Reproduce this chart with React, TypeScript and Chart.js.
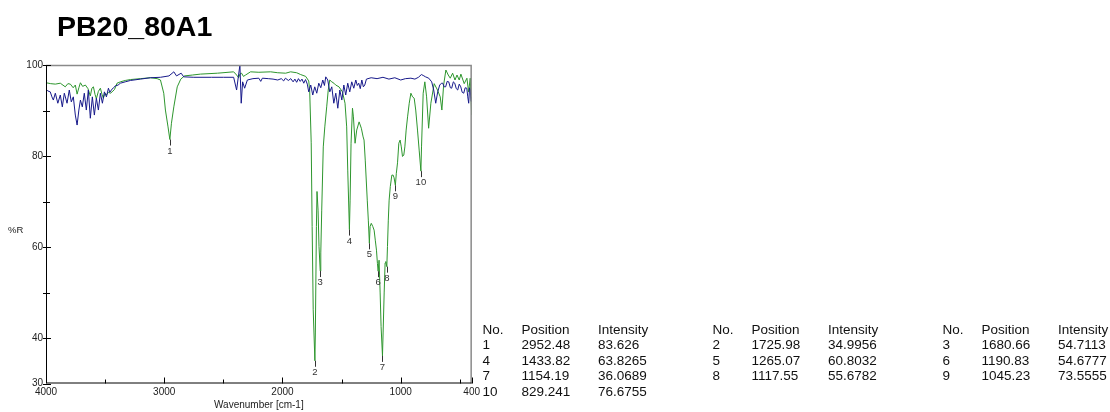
import React, { useEffect, useRef } from 'react';
import { Chart, registerables } from 'chart.js';

Chart.register(...registerables);

const chartTitle = 'PB20_80A1';
const xAxisTitle = 'Wavenumber [cm-1]';
const yAxisTitle = '%R';

const xTickValues = [4000, 3500, 3000, 2500, 2000, 1500, 1000, 500, 400];
const xTickLabels = ['4000', '', '3000', '', '2000', '', '1000', '', '400'];
const yTickValues = [30, 40, 50, 60, 70, 80, 90, 100];
const yTickLabels = ['30', '40', '', '60', '', '80', '', '100'];

// Sample spectrum (green)
const sampleWavenumber = [
  4000, 3960, 3921, 3879, 3837, 3815, 3794, 3770, 3752, 3737, 3722, 3709, 3690, 3667, 3645, 3625, 3612, 3599,
  3585, 3574, 3557, 3540, 3527, 3515, 3500, 3489, 3472, 3455, 3441, 3421, 3399, 3371, 3330, 3286, 3201, 3117,
  3060, 3032, 3004, 2990, 2968, 2952.48, 2939, 2919, 2890, 2860, 2829, 2760, 2693, 2550, 2413, 2388, 2371, 2360,
  2346, 2330, 2312, 2270, 2200, 2100, 2040, 1973, 1931, 1880, 1846, 1804, 1778, 1770, 1757, 1749, 1740, 1725.98,
  1722, 1713, 1708, 1699, 1691, 1680.66, 1676, 1668, 1655, 1642, 1626, 1613, 1600, 1583, 1565, 1550, 1522, 1493,
  1471, 1457, 1448, 1433.82, 1428, 1420, 1408, 1400, 1386, 1372, 1352, 1333, 1318, 1310, 1300, 1283, 1274,
  1265.07, 1259, 1249, 1236, 1225, 1215, 1205, 1197, 1190.83, 1183, 1174, 1166, 1154.19, 1149, 1140, 1132, 1126,
  1117.55, 1112, 1105, 1098, 1088, 1075, 1064, 1056, 1045.23, 1037, 1027, 1016, 1005, 995, 985, 974, 965, 954,
  942, 928, 914, 900, 886, 873, 858, 844, 829.241, 824, 810, 796, 781, 764, 745, 717, 689, 666, 652, 637, 618,
  598, 581, 561, 541, 524, 505, 491, 463, 440, 426, 412, 400,
];
const sampleValue = [
  96.1, 95.9, 95.8, 96.0, 95.2, 95.9, 95.8, 95.0, 95.6, 93.6, 95.0, 96.1, 95.3, 95.6, 94.8, 93.2, 94.9, 95.2,
  93.5, 92.6, 94.2, 94.9, 93.6, 92.7, 93.8, 93.4, 94.0, 93.8, 94.1, 94.6, 96.0, 96.3, 96.6, 96.8, 97.0, 97.2,
  97.0, 96.7, 93.8, 90.1, 86.4, 83.626, 87.2, 90.8, 95.2, 96.9, 97.6, 97.8, 98.0, 98.2, 98.5, 97.8, 97.2, 98.0,
  98.2, 97.5, 97.8, 98.5, 98.4, 98.5, 98.3, 98.2, 98.5, 98.3, 97.9, 97.5, 96.5, 94.5, 82.9, 64.5, 46.2, 34.9956,
  41.1, 64.5, 72.2, 68.1, 60.1, 54.7113, 58.7, 68.1, 82.0, 86.4, 90.8, 94.5, 96.7, 96.3, 96.0, 95.6, 95.2, 94.1,
  91.6, 86.4, 76.9, 63.8265, 70.3, 82.8, 90.5, 88.6, 82.8, 85.7, 87.5, 86.1, 84.2, 83.5, 79.1, 70.3, 65.9,
  60.8032, 64.5, 65.2, 64.5, 63.7, 61.5, 59.3, 56.4, 54.6777, 57.1, 49.9, 42.5, 36.0689, 41.1, 49.9, 56.5, 56.8,
  55.6782, 60.1, 65.9, 70.3, 73.3, 75.8, 75.8, 75.2, 73.5555, 76.2, 78.5, 82.8, 83.5, 82.0, 79.9, 80.2, 82.0, 85.7,
  88.6, 91.6, 93.8, 93.0, 92.7, 90.1, 85.7, 81.3, 76.6755, 82.0, 93.8, 96.3, 93.0, 86.1, 91.6, 95.9, 94.5, 93.0,
  90.1, 95.6, 98.9, 97.8, 97.1, 98.2, 96.7, 97.8, 96.7, 98.0, 95.9, 97.1, 94.1, 97.1, 89.0,
];

// Background spectrum (dark blue)
const backgroundWavenumber = [
  4000, 3985, 3964, 3950, 3938, 3921, 3900, 3879, 3862, 3845, 3822, 3803, 3786, 3769, 3752, 3737, 3722, 3709,
  3693, 3676, 3659, 3642, 3625, 3608, 3591, 3574, 3557, 3540, 3523, 3506, 3489, 3472, 3460, 3447, 3430, 3413,
  3390, 3371, 3330, 3286, 3201, 3117, 3032, 2960, 2919, 2896, 2857, 2835, 2750, 2600, 2500, 2413, 2388, 2377,
  2360, 2349, 2337, 2320, 2297, 2250, 2200, 2184, 2170, 2120, 2080, 2040, 2010, 1990, 1975, 1950, 1930, 1910,
  1895, 1880, 1865, 1850, 1835, 1820, 1805, 1790, 1778, 1761, 1744, 1727, 1710, 1693, 1676, 1659, 1645, 1634,
  1617, 1600, 1583, 1566, 1549, 1532, 1515, 1498, 1481, 1465, 1448, 1431, 1414, 1397, 1380, 1367, 1355, 1342,
  1329, 1316, 1304, 1290, 1250, 1200, 1150, 1100, 1050, 1000, 960, 914, 880, 850, 825, 810, 790, 763, 738, 721,
  704, 687, 670, 655, 645, 632, 620, 607, 594, 580, 569, 555, 543, 530, 518, 505, 492, 480, 467, 455, 441, 433,
  425, 418, 412, 405, 400,
];
const backgroundValue = [
  94.7, 94.3, 94.1, 93.0, 92.3, 93.8, 91.6, 93.4, 90.8, 93.8, 91.6, 94.5, 91.9, 93.0, 89.0, 86.8, 90.1, 92.3,
  90.8, 93.8, 90.1, 94.5, 88.3, 93.0, 89.0, 92.7, 90.1, 93.8, 91.6, 94.1, 93.0, 94.9, 94.0, 94.5, 95.0, 95.4,
  95.6, 96.0, 96.3, 96.6, 96.9, 97.2, 97.3, 97.6, 98.5, 97.6, 98.2, 97.4, 97.3, 97.3, 97.3, 97.3, 94.5, 96.7,
  100.0, 91.6, 96.3, 94.9, 96.7, 97.0, 97.1, 96.4, 97.1, 97.0, 96.9, 96.7, 97.0, 96.5, 97.1, 96.6, 97.0, 96.3,
  96.9, 96.2, 97.0, 96.4, 96.9, 96.0, 96.8, 95.8, 94.1, 95.6, 93.4, 95.2, 93.8, 96.0, 95.0, 96.7, 95.5, 97.4,
  96.7, 94.1, 95.2, 91.6, 93.8, 90.5, 94.5, 92.3, 95.6, 93.4, 96.0, 94.1, 96.3, 94.9, 96.7, 95.5, 96.0, 94.8,
  96.7, 95.2, 95.6, 96.9, 97.2, 97.0, 97.3, 96.9, 97.2, 96.7, 97.0, 97.1, 96.9, 97.3, 97.9, 97.7, 97.4, 97.1, 96.3, 94.5,
  91.6, 94.1, 95.6, 96.0, 96.0, 95.2, 95.2, 96.4, 96.3, 95.0, 94.9, 96.3, 96.0, 94.8, 94.5, 95.8, 95.2, 94.0, 93.8, 95.0, 94.9, 93.0,
  91.6, 95.0, 94.5, 92.0, 93.0,
];

// Peak table
const peakNo = [1, 2, 3, 4, 5, 6, 7, 8, 9, 10];
const peakPosition = [2952.48, 1725.98, 1680.66, 1433.82, 1265.07, 1190.83, 1154.19, 1117.55, 1045.23, 829.241];
const peakIntensity = [83.626, 34.9956, 54.7113, 63.8265, 60.8032, 54.6777, 36.0689, 55.6782, 73.5555, 76.6755];
const tableHeaders = ['No.', 'Position', 'Intensity'];

const FONT = '"Liberation Sans", Arial, Helvetica, sans-serif';
const GREEN = '#2e962e';
const BLUE = '#17198a';

const zip = (xs: number[], ys: number[]) => xs.map((x, i) => ({ x, y: ys[i] }));

const framePlugin = {
  id: 'frameAndPeaks',
  afterDatasetsDraw(chart: any) {
    const { ctx, chartArea, scales } = chart;
    const { left, right, top, bottom } = chartArea;
    const xs = scales.x;
    const ys = scales.y;
    ctx.save();
    ctx.strokeStyle = '#333';
    ctx.lineWidth = 1;
    ctx.fillStyle = '#333';
    ctx.font = `9.5px ${FONT}`;
    ctx.textAlign = 'center';
    ctx.textBaseline = 'middle';
    peakPosition.forEach((p, i) => {
      const px = xs.getPixelForValue(p);
      const py = ys.getPixelForValue(peakIntensity[i]);
      const lx = Math.round(px) + 0.5;
      ctx.beginPath();
      ctx.moveTo(lx, py);
      ctx.lineTo(lx, py + 6);
      ctx.stroke();
      ctx.fillText(String(peakNo[i]), px, py + 11.5);
    });
    ctx.strokeStyle = '#8a8a8a';
    ctx.lineWidth = 1.5;
    ctx.beginPath();
    ctx.moveTo(left, top + 0.5);
    ctx.lineTo(right - 0.5, top + 0.5);
    ctx.lineTo(right - 0.5, bottom);
    ctx.stroke();
    ctx.strokeStyle = '#000';
    ctx.lineWidth = 1;
    ctx.beginPath();
    ctx.moveTo(left + 0.5, top);
    ctx.lineTo(left + 0.5, bottom - 0.5);
    ctx.lineTo(right, bottom - 0.5);
    ctx.stroke();
    xTickValues.forEach((v, i) => {
      const px = Math.round(xs.getPixelForValue(v)) + 0.5;
      const len = xTickLabels[i] ? 6 : 4;
      ctx.beginPath();
      ctx.moveTo(px, bottom);
      ctx.lineTo(px, bottom - len);
      ctx.stroke();
    });
    yTickValues.forEach((v, i) => {
      const py = Math.round(ys.getPixelForValue(v)) + 0.5;
      const len = yTickLabels[i] ? 5 : 4;
      ctx.beginPath();
      ctx.moveTo(left - 3, py);
      ctx.lineTo(left + len, py);
      ctx.stroke();
    });
    ctx.restore();
  },
};

function SpectrumChart() {
  const ref = useRef<HTMLCanvasElement>(null);
  useEffect(() => {
    if (!ref.current) return;
    const chart = new Chart(ref.current, {
      type: 'line',
      data: {
        datasets: [
          {
            label: 'Background',
            data: zip(backgroundWavenumber, backgroundValue),
            borderColor: BLUE,
            borderWidth: 1,
            pointRadius: 0,
            tension: 0,
            fill: false,
          },
          {
            label: chartTitle,
            data: zip(sampleWavenumber, sampleValue),
            borderColor: GREEN,
            borderWidth: 1,
            pointRadius: 0,
            tension: 0,
            fill: false,
          },
        ],
      },
      options: {
        animation: false,
        responsive: false,
        maintainAspectRatio: false,
        events: [],
        layout: { padding: { top: 65, right: 9, left: 0, bottom: 0 } },
        plugins: { legend: { display: false }, tooltip: { enabled: false }, title: { display: false } },
        scales: {
          x: {
            type: 'linear',
            min: 400,
            max: 4000,
            reverse: true,
            grid: { display: false, drawTicks: false },
            border: { display: false },
            afterBuildTicks: (scale: any) => {
              scale.ticks = xTickValues.map((value) => ({ value }));
            },
            afterFit: (scale: any) => {
              scale.height = 28.5;
            },
            ticks: {
              autoSkip: false,
              maxRotation: 0,
              minRotation: 0,
              padding: 3,
              color: '#222',
              font: { family: FONT, size: 10 },
              callback: (value: any) => {
                const i = xTickValues.indexOf(Number(value));
                return i >= 0 ? xTickLabels[i] : '';
              },
            },
            title: {
              display: true,
              text: xAxisTitle,
              color: '#222',
              font: { family: FONT, size: 10 },
              padding: { top: 0, bottom: 1 },
            },
          },
          y: {
            type: 'linear',
            min: 30,
            max: 100,
            grid: { display: false, drawTicks: false },
            border: { display: false },
            afterBuildTicks: (scale: any) => {
              scale.ticks = yTickValues.map((value) => ({ value }));
            },
            afterFit: (scale: any) => {
              scale.width = 46;
            },
            ticks: {
              autoSkip: false,
              padding: 3,
              color: '#222',
              font: { family: FONT, size: 10 },
              callback: (value: any) => {
                const i = yTickValues.indexOf(Number(value));
                return i >= 0 ? yTickLabels[i] : '';
              },
            },
          },
        },
      },
      plugins: [framePlugin],
    });
    return () => chart.destroy();
  }, []);
  return (
    <canvas
      ref={ref}
      width={483}
      height={412}
      style={{ position: 'absolute', left: 0, top: 0, width: 483, height: 412 }}
    />
  );
}

const groupLeft = [482.5, 712.5, 942.5];
const colOffset = [0, 39, 115.5];

function PeakTable() {
  const rows: number[][] = [];
  for (let i = 0; i < peakNo.length; i += 3) rows.push([i, i + 1, i + 2].filter((k) => k < peakNo.length));
  const cellStyle = (left: number, top: number): React.CSSProperties => ({
    position: 'absolute',
    left,
    top,
    fontSize: 13.5,
    lineHeight: '15.5px',
    whiteSpace: 'nowrap',
    color: '#111',
  });
  const headerTop = 321.5;
  const rowH = 15.5;
  const cells: React.ReactNode[] = [];
  groupLeft.forEach((gl, g) => {
    tableHeaders.forEach((h, c) => {
      cells.push(
        <div key={`h${g}${c}`} style={cellStyle(gl + colOffset[c], headerTop)}>
          {h}
        </div>
      );
    });
  });
  rows.forEach((r, ri) => {
    r.forEach((k, g) => {
      const vals = [String(peakNo[k]), String(peakPosition[k]), String(peakIntensity[k])];
      vals.forEach((v, c) => {
        cells.push(
          <div key={`r${k}${c}`} style={cellStyle(groupLeft[g] + colOffset[c], headerTop + rowH * (ri + 1))}>
            {v}
          </div>
        );
      });
    });
  });
  return <>{cells}</>;
}

export default function App() {
  return (
    <div
      style={{
        position: 'absolute',
        left: 0,
        top: 0,
        width: 1110,
        height: 412,
        background: '#fff',
        fontFamily: FONT,
        overflow: 'hidden',
      }}
    >
      <SpectrumChart />
      <div
        style={{
          position: 'absolute',
          left: 57,
          top: 12,
          fontSize: 28.5,
          lineHeight: '28.5px',
          fontWeight: 'bold',
          color: '#000',
          whiteSpace: 'nowrap',
        }}
      >
        {chartTitle}
      </div>
      <div
        style={{
          position: 'absolute',
          left: 8,
          top: 223.6,
          fontSize: 9.5,
          lineHeight: '11px',
          color: '#222',
        }}
      >
        {yAxisTitle}
      </div>
      <PeakTable />
    </div>
  );
}
